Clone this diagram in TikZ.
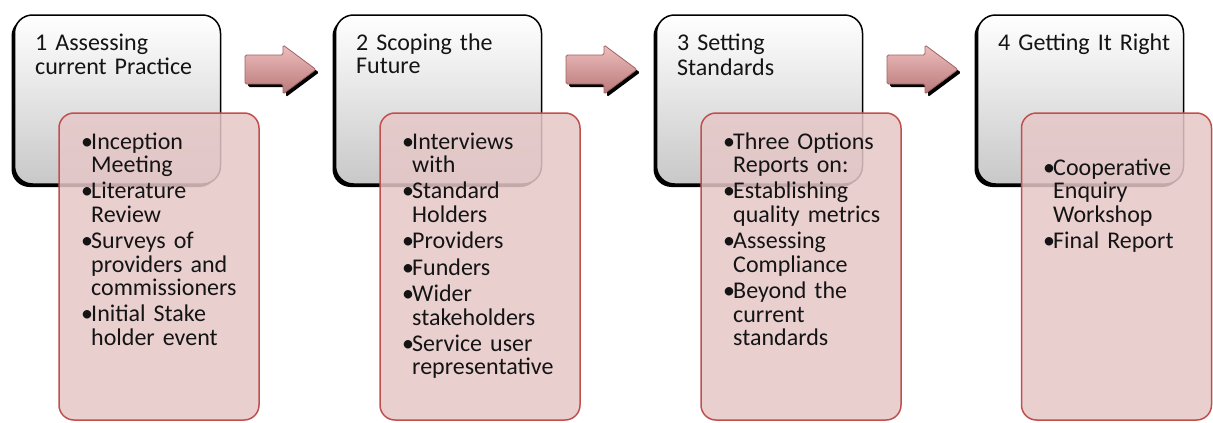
\documentclass[tikz,border=0pt]{standalone}
\usepackage{fontspec}
\setmainfont{Carlito}
\usepackage{xcolor}
\usetikzlibrary{
    shadows,
    positioning
}

\definecolor{stagegrey}{RGB}{200,200,200}
\definecolor{stagemid}{RGB}{238,238,238}
\definecolor{listfill}{RGB}{230,199,199}
\definecolor{listline}{RGB}{192,80,77}
\definecolor{arrowtop}{RGB}{238,190,190}
\definecolor{arrowbot}{RGB}{185,120,120}
\definecolor{arrowline}{RGB}{160,100,100}
\definecolor{inktext}{RGB}{20,20,20}

\newcommand{\bitem}[1]{\noindent\strut\makebox[10pt][l]{\textbullet}%
    \begin{tabular}[t]{@{}l@{}}#1\end{tabular}\par\vspace{1.5pt}}

\begin{document}
\begin{tikzpicture}[x=1pt, y=-1pt,
    stage/.style={draw=black, line width=1.5pt, rounded corners=18pt,
        top color=white, middle color=stagemid, bottom color=stagegrey,
        minimum width=206pt, minimum height=169pt, inner sep=0pt,
        drop shadow={shadow xshift=-3pt, shadow yshift=-3pt, opacity=1, fill=black}},
    listbox/.style={draw=listline, line width=1.5pt, rounded corners=15pt,
        fill=listfill, fill opacity=0.85, text opacity=1,
        minimum width=200pt, minimum height=307pt, inner sep=0pt},
    stagetitle/.style={anchor=north west, inner sep=0pt, text width=185pt,
        text=inktext, font=\fontsize{24}{23.5}\selectfont},
    items/.style={anchor=north west, inner sep=0pt, text width=185pt,
        text=inktext, font=\fontsize{24}{23.5}\selectfont},
    blockarrow/.style={draw=arrowline, line width=0.8pt, rounded corners=1.5pt,
        top color=arrowtop, bottom color=arrowbot,
        drop shadow={shadow xshift=3pt, shadow yshift=-3pt, opacity=1, fill=black}}]
    \useasboundingbox (0, 0) rectangle (1213, 423);

    \node[stage] (stage1) at (117.5, 99.5) {};
    \node[stage] (stage2) at (438.5, 99.5) {};
    \node[stage] (stage3) at (759.5, 99.5) {};
    \node[stage] (stage4) at (1080.5, 99.5) {};

    \node[stagetitle] (title1) at (35, 33.5) {\strut 1 Assessing\\current Practice};
    \node[stagetitle] (title2) at (356, 33.5) {\strut 2 Scoping the\\Future};
    \node[stagetitle] (title3) at (677, 33.5) {\strut 3 Setting\\Standards};
    \node[stagetitle] (title4) at (998, 33.5) {\strut 4 Getting It Right};

    \draw[blockarrow] (245, 55) -- (283, 55) -- (283, 45) -- (316, 69.5)
        -- (283, 94) -- (283, 84) -- (245, 84) -- cycle;
    \draw[blockarrow] (566, 55) -- (604, 55) -- (604, 45) -- (637, 69.5)
        -- (604, 94) -- (604, 84) -- (566, 84) -- cycle;
    \draw[blockarrow] (887, 55) -- (925, 55) -- (925, 45) -- (958, 69.5)
        -- (925, 94) -- (925, 84) -- (887, 84) -- cycle;

    \node[listbox] (list1) at (159, 266.5) {};
    \node[listbox] (list2) at (480, 266.5) {};
    \node[listbox] (list3) at (801, 266.5) {};
    \node[listbox, minimum width=190pt] (list4) at (1116.5, 266.5) {};

    \node[items] (items1) at (81, 132.3) {%
        \bitem{Inception\\Meeting}
        \bitem{Literature\\Review}
        \bitem{Surveys of\\providers and\\commissioners}
        \bitem{Initial Stake\\holder event}};
    \node[items] (items2) at (402, 132.3) {%
        \bitem{Interviews\\with}
        \bitem{Standard\\Holders}
        \bitem{Providers}
        \bitem{Funders}
        \bitem{Wider\\stakeholders}
        \bitem{Service user\\representative}};
    \node[items] (items3) at (723, 132.3) {%
        \bitem{Three Options\\Reports on:}
        \bitem{Establishing\\quality metrics}
        \bitem{Assessing\\Compliance}
        \bitem{Beyond the\\current\\standards}};
    \node[items] (items4) at (1043, 158.3) {%
        \bitem{Cooperative\\Enquiry\\Workshop}
        \bitem{Final Report}};
\end{tikzpicture}
\end{document}
